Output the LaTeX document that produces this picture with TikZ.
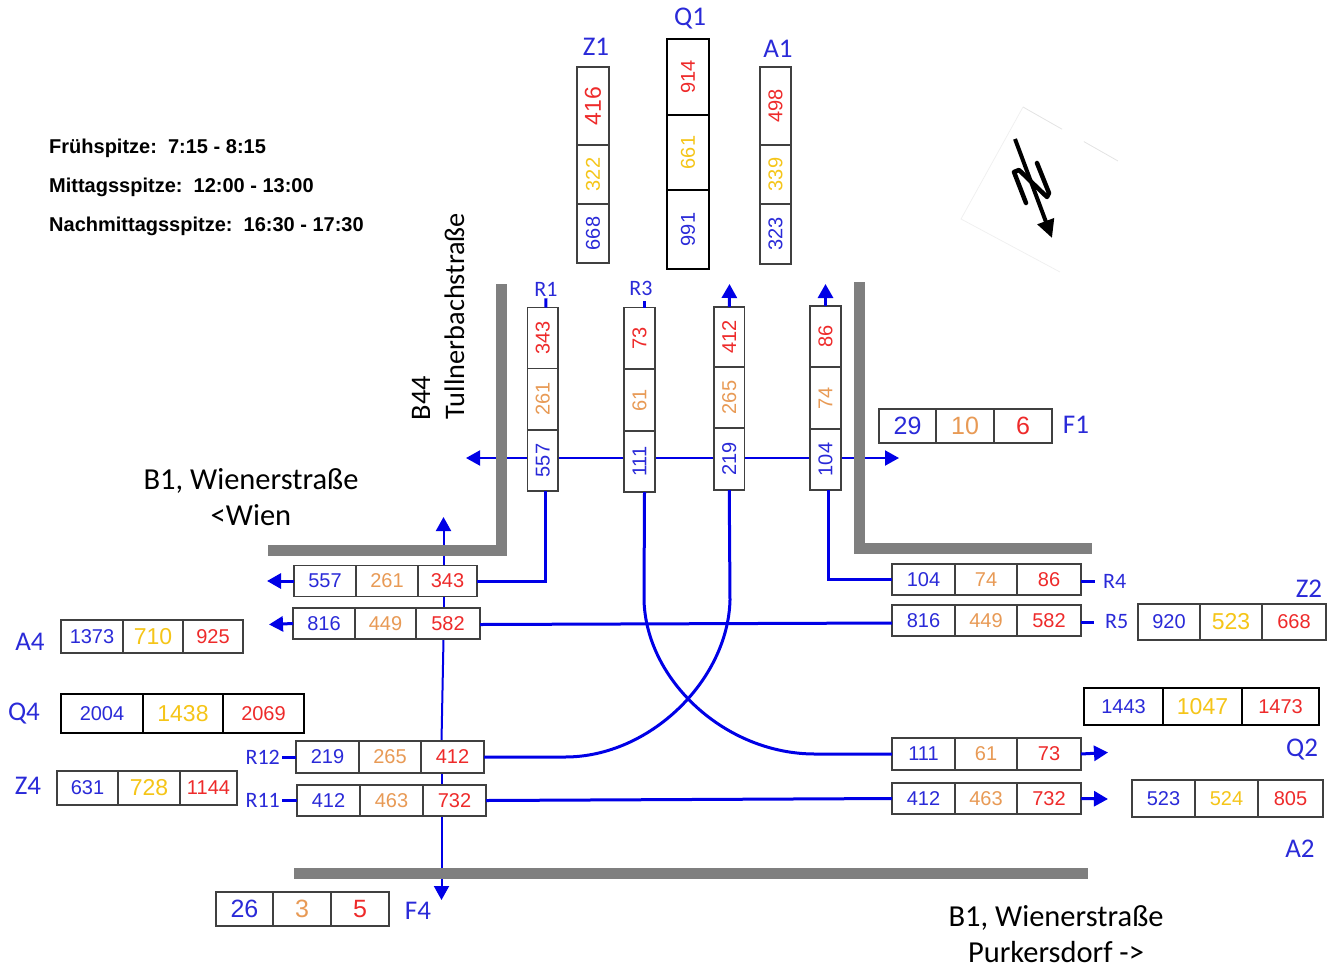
\documentclass[tikz,border=0pt]{standalone}
\usepackage{fontspec}
\usepackage{xcolor}
\usepackage{tikz}
\usetikzlibrary{arrows.meta,backgrounds,positioning}
\setmainfont{Liberation Sans}
\newfontfamily\calibrifont{Carlito}
\definecolor{zblau}{HTML}{2A2AD8}
\definecolor{zorange}{HTML}{E89A55}
\definecolor{zgelb}{HTML}{F5C518}
\definecolor{zrot}{HTML}{EE2A2A}
\definecolor{strom}{HTML}{0000E6}
\definecolor{wandgrau}{HTML}{7F7F7F}
\definecolor{rahmen}{HTML}{404040}

\begin{document}
\begin{tikzpicture}[x=1pt, y=-1pt,
      zelle/.style={rectangle, draw=rahmen, fill=white, line width=1.2pt, inner sep=0pt, outer sep=0pt,
                    font=\fontsize{20}{24}\selectfont},
      wertb/.style 2 args={zelle, text=zblau, minimum width=#1, minimum height=#2},
      werto/.style 2 args={zelle, text=zorange, minimum width=#1, minimum height=#2},
      wertg/.style 2 args={zelle, text=zgelb, minimum width=#1, minimum height=#2},
      wertr/.style 2 args={zelle, text=zrot, minimum width=#1, minimum height=#2},
      fett/.style={draw=black, line width=2.5pt},
      gross/.style={font=\fontsize{25}{30}\selectfont},
      mittel/.style={font=\fontsize{23}{27}\selectfont},
      marke/.style={text=zblau, inner sep=2pt, font=\calibrifont\fontsize{27}{32}\selectfont},
      markek/.style={marke, font=\calibrifont\fontsize{22}{26}\selectfont},
      titel/.style={align=center, inner sep=0pt, font=\calibrifont\fontsize{30.5}{36}\selectfont},
      titelr/.style={titel, rotate=90, font=\calibrifont\fontsize{28.3}{34}\selectfont},
      zeit/.style={anchor=west, inner sep=0pt, font=\bfseries\fontsize{20}{24}\selectfont},
      duenn/.style={draw=strom, line width=2pt},
      dick/.style={draw=strom, line width=3pt},
      spitze/.style={-{Triangle[length=14pt, width=15pt]}},
      wand/.style={draw=wandgrau, line width=11pt}]

    \useasboundingbox (0,0) rectangle (1338,967);

    % Zeiten
    \node[zeit] (t1) at (49,148) {Frühspitze:\ \ 7:15 - 8:15};
    \node[zeit] (t2) at (49,187) {Mittagsspitze:\ \ 12:00 - 13:00};
    \node[zeit] (t3) at (49,226) {Nachmittagsspitze:\ \ 16:30 - 17:30};

    % Strassen
    \node[titel] (b1w) at (251,497) {B1, Wienerstraße\\{<}Wien};
    \node[titel] (b1p) at (1056,934) {B1, Wienerstraße\\Purkersdorf ->};
    \node[titelr] (b44) at (421,398) {B44};
    \node[titelr] (tull) at (454.5,316) {Tullnerbachstraße};

    % Nordpfeil
    \draw[draw=gray!22, line width=0.8pt, dash pattern=on 45pt off 25pt] (1023,107) -- (1118,161);
    \draw[draw=gray!12, line width=0.8pt] (1023,107) -- (961,219) -- (1060,272);
    \draw[line width=4pt, -{Triangle[length=18pt, width=17pt]}] (1015,139) -- (1052,238);
    \draw[line width=4.5pt, line join=round, line cap=round] (1026,203) -- (1014,172) -- (1019,170) -- (1047,197) -- (1049,193) -- (1037,163);

    % Zufahrt oben
    \node[marke] (lZ1) at (596,47) {Z1};
    \node[wertb={59}{32}, rotate=90, anchor=west] (z1c) at (593,263) {668};
    \node[wertg={59}{32}, rotate=90, anchor=west] (z1b) at (z1c.east) {322};
    \node[wertr={78}{32}, mittel, rotate=90, anchor=west] (z1a) at (z1b.east) {416};

    \node[marke] (lQ1) at (690,19) {Q1};
    \node[wertb={79}{42}, fett, rotate=90, anchor=west] (q1c) at (688,269) {991};
    \node[wertg={75}{42}, fett, rotate=90, anchor=west] (q1b) at (q1c.east) {661};
    \node[wertr={76}{42}, fett, rotate=90, anchor=west] (q1a) at (q1b.east) {914};

    \node[marke] (lA1) at (778,49) {A1};
    \node[wertb={60}{31}, rotate=90, anchor=west] (a1c) at (775.5,264) {323};
    \node[wertg={59}{31}, rotate=90, anchor=west] (a1b) at (a1c.east) {339};
    \node[wertr={78}{31}, rotate=90, anchor=west] (a1a) at (a1b.east) {498};

    % Spalten Kreuzung
    \node[wertb={61}{30.5}, rotate=90, anchor=west] (r1c) at (542.75,491) {557};
    \node[werto={61.5}{30.5}, rotate=90, anchor=west] (r1b) at (r1c.east) {261};
    \node[wertr={61}{30.5}, rotate=90, anchor=west] (r1a) at (r1b.east) {343};
    \node[wertb={61}{31}, rotate=90, anchor=west] (r3c) at (639.5,492) {111};
    \node[werto={62}{31}, rotate=90, anchor=west] (r3b) at (r3c.east) {61};
    \node[wertr={61.5}{31}, rotate=90, anchor=west] (r3a) at (r3b.east) {73};
    \node[wertb={62}{30.5}, rotate=90, anchor=west] (k3c) at (729.25,490) {219};
    \node[werto={61}{30.5}, rotate=90, anchor=west] (k3b) at (k3c.east) {265};
    \node[wertr={60}{30.5}, rotate=90, anchor=west] (k3a) at (k3b.east) {412};
    \node[wertb={61}{31}, rotate=90, anchor=west] (k4c) at (825.5,490) {104};
    \node[werto={62}{31}, rotate=90, anchor=west] (k4b) at (k4c.east) {74};
    \node[wertr={61}{31}, rotate=90, anchor=west] (k4a) at (k4b.east) {86};
    \node[markek] (lR1) at (546,289) {R1};
    \node[markek] (lR3) at (641,288) {R3};

    % Zeilen links
    \node[wertb={62}{31}, anchor=west] (z557a) at (294,581) {557};
    \node[werto={62}{31}, right=0pt of z557a] (z557b) {261};
    \node[wertr={59}{31}, right=0pt of z557b] (z557c) {343};
    \node[wertb={62}{31}, anchor=west] (z816a) at (293,623.5) {816};
    \node[werto={61}{31}, right=0pt of z816a] (z816b) {449};
    \node[wertr={64}{31}, right=0pt of z816b] (z816c) {582};
    \node[wertb={63}{32}, anchor=west] (z219a) at (296,757) {219};
    \node[werto={62}{32}, right=0pt of z219a] (z219b) {265};
    \node[wertr={63}{32}, right=0pt of z219b] (z219c) {412};
    \node[wertb={63}{31}, anchor=west] (z412a) at (297,800.5) {412};
    \node[werto={63}{31}, right=0pt of z412a] (z412b) {463};
    \node[wertr={63}{31}, right=0pt of z412b] (z412c) {732};
    \node[markek, anchor=east] (lR12) at (282,757) {R12};
    \node[markek, anchor=east] (lR11) at (282,800.5) {R11};

    % Zeilen rechts
    \node[wertb={63}{31}, anchor=west] (q104a) at (892,579.5) {104};
    \node[werto={62}{31}, right=0pt of q104a] (q104b) {74};
    \node[wertr={64}{31}, right=0pt of q104b] (q104c) {86};
    \node[wertb={63}{31}, anchor=west] (q816a) at (892,620.5) {816};
    \node[werto={62}{31}, right=0pt of q816a] (q816b) {449};
    \node[wertr={64}{31}, right=0pt of q816b] (q816c) {582};
    \node[wertb={63}{32}, anchor=west] (q111a) at (892,754) {111};
    \node[werto={62}{32}, right=0pt of q111a] (q111b) {61};
    \node[wertr={64}{32}, right=0pt of q111b] (q111c) {73};
    \node[wertb={63}{31}, anchor=west] (q412a) at (892,798.5) {412};
    \node[werto={62}{31}, right=0pt of q412a] (q412b) {463};
    \node[wertr={64}{31}, right=0pt of q412b] (q412c) {732};
    \node[markek, anchor=west] (lR4) at (1101,581) {R4};
    \node[markek, anchor=west] (lR5) at (1103,622) {R5};

    % Summen aussen
    \node[marke] (lF1) at (1076,425) {F1};
    \node[wertb={57}{34}, gross, anchor=west] (f1a) at (879,426) {29};
    \node[werto={58}{34}, gross, right=0pt of f1a] (f1b) {10};
    \node[wertr={58}{34}, gross, right=0pt of f1b] (f1c) {6};

    \node[marke] (lZ2) at (1309,589) {Z2};
    \node[wertb={62}{36}, anchor=west] (z2a) at (1138,622) {920};
    \node[wertg={62}{36}, mittel, right=0pt of z2a] (z2b) {523};
    \node[wertr={64}{36}, right=0pt of z2b] (z2c) {668};

    \node[marke] (lQ2) at (1302,750) {Q2};
    \node[wertb={79}{37}, fett, anchor=west] (q2a) at (1084,706.5) {1443};
    \node[wertg={79}{37}, fett, mittel, right=0pt of q2a] (q2b) {1047};
    \node[wertr={77}{37}, fett, right=0pt of q2b] (q2c) {1473};

    \node[marke] (lA2) at (1300,849) {A2};
    \node[wertb={63}{37}, anchor=west] (a2a) at (1132,798.5) {523};
    \node[wertg={63}{37}, right=0pt of a2a] (a2b) {524};
    \node[wertr={65}{37}, right=0pt of a2b] (a2c) {805};

    \node[marke] (lA4) at (30,642) {A4};
    \node[wertb={62}{33}, anchor=west] (a4a) at (61,636.5) {1373};
    \node[wertg={60}{33}, mittel, right=0pt of a4a] (a4b) {710};
    \node[wertr={60}{33}, right=0pt of a4b] (a4c) {925};

    \node[marke] (lQ4) at (24,714) {Q4};
    \node[wertb={82}{39}, fett, anchor=west] (q4a) at (61,713.5) {2004};
    \node[wertg={80}{39}, fett, mittel, right=0pt of q4a] (q4b) {1438};
    \node[wertr={81}{39}, fett, right=0pt of q4b] (q4c) {2069};

    \node[marke] (lZ4) at (28,786) {Z4};
    \node[wertb={61}{34}, anchor=west] (z4a) at (57,788) {631};
    \node[wertg={62}{34}, mittel, right=0pt of z4a] (z4b) {728};
    \node[wertr={57}{34}, right=0pt of z4b] (z4c) {1144};

    \node[marke] (lF4) at (418,911) {F4};
    \node[wertb={57}{34}, gross, anchor=west] (f4a) at (216,909) {26};
    \node[werto={58}{34}, gross, right=0pt of f4a] (f4b) {3};
    \node[wertr={58}{34}, gross, right=0pt of f4b] (f4c) {5};

    % freie Enden
    \coordinate (nF4) at (443.5,517);
    \coordinate (sF4) at (441.5,900);
    \coordinate (wF1) at (466,458);
    \coordinate (oF1) at (899,458);
    \coordinate (pK3) at (729.5,284);
    \coordinate (pK4) at (825.5,284);
    \coordinate (pZ557) at (267,581);
    \coordinate (pZ816) at (269,624.5);
    \coordinate (pQ111) at (1108,752.5);
    \coordinate (pQ412) at (1108,799);

    % duenne Linien und Waende liegen unter den Kaesten
    \begin{pgfonlayer}{background}
      \draw[duenn, spitze] (r1c.north |- wF1) -- (wF1);
      \draw[duenn] (r1c.south |- wF1) -- (r3c.north |- wF1);
      \draw[duenn] (r3c.south |- wF1) -- (k3c.north |- wF1);
      \draw[duenn] (k3c.south |- wF1) -- (k4c.north |- wF1);
      \draw[duenn, spitze] (k4c.south |- oF1) -- (oF1);
      \draw[duenn, spitze] (z557c.north -| nF4) -- (nF4);
      \draw[duenn] (z557c.south -| nF4) -- (z816c.north -| nF4);
      \draw[duenn] (z816c.south -| nF4) -- (z219c.north -| sF4);
      \draw[duenn] (z219c.south -| sF4) -- (z412c.north -| sF4);
      \draw[duenn, spitze] (z412c.south -| sF4) -- (sF4);
      \draw[wand] (268,550.5) -- (501.5,550.5) -- (501.5,284);
      \draw[wand] (859.5,282) -- (859.5,548) -- (1092,548);
      \draw[wand] (294,873) -- (1088,873);
    \end{pgfonlayer}

    % Stroeme
    \draw[dick] ([xshift=3pt]r1a.east) -- (lR1.south);
    \draw[dick] ([xshift=5pt]r3a.east) -- ++(0,-7);
    \draw[dick, spitze] (k3a.east) -- (pK3);
    \draw[dick, spitze] (k4a.east) -- (pK4);
    \draw[dick] ([xshift=3pt]r1c.west) |- (z557c.east);
    \draw[dick] ([xshift=2.5pt]k4c.west) |- (q104a.west);
    \draw[dick] ([xshift=5pt]r3c.west) -- (644,600) .. controls (646,680) and (725,754) .. (815,754) -- (q111a.west);
    \draw[dick] (k3c.west) -- (730,600) .. controls (728,680) and (650,757) .. (565,757) -- (z219c.east);
    \draw[dick] ([yshift=-1pt]z816c.east) -- ([yshift=-2.5pt]q816a.west);
    \draw[dick] (z412c.east) -- (q412a.west);
    \draw[dick, spitze] (z557a.west) -- (pZ557);
    \draw[dick, spitze] (z816a.west) -- (pZ816);
    \draw[dick, spitze] (q111c.east) -- (pQ111);
    \draw[dick, spitze] (q412c.east) -- (pQ412);
    \draw[dick] (z219a.west) -- (lR12.east);
    \draw[dick] (z412a.west) -- (lR11.east);
    \draw[dick, shorten >=6pt] ([yshift=-1.5pt]q104c.east) -- (lR4.west);
    \draw[dick, shorten >=9pt] ([yshift=-1.5pt]q816c.east) -- (lR5.west);
  \end{tikzpicture}
\end{document}
